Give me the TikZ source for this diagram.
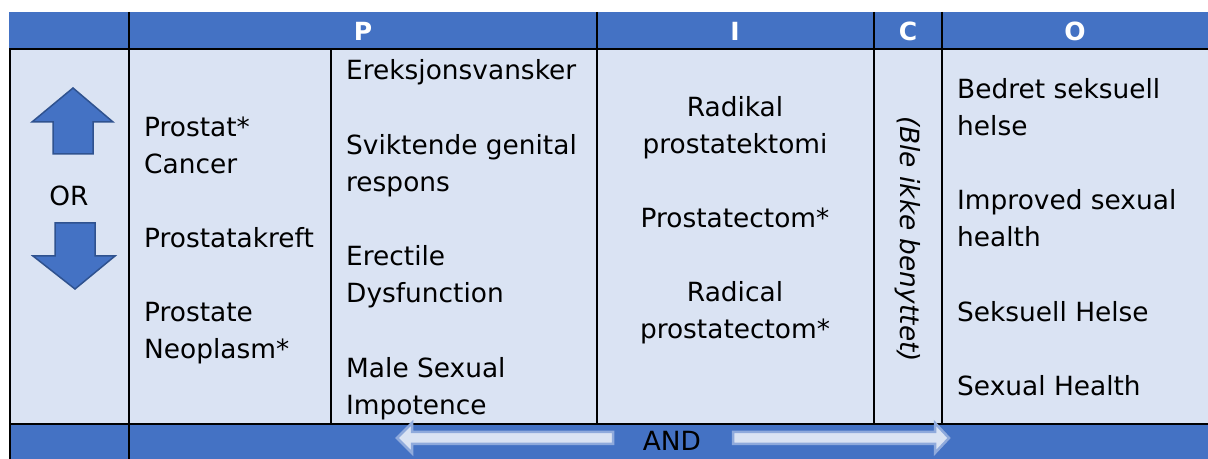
\documentclass[tikz,border=0pt]{standalone}
\usepackage{fontspec}
\setmainfont{DejaVu Sans}
\definecolor{hdr}{HTML}{4472C4}
\definecolor{cell}{HTML}{DAE3F3}
\definecolor{arrline}{HTML}{2F528F}
\definecolor{andline}{HTML}{8FAADC}
\begin{document}
\begin{tikzpicture}[x=1bp,y=-1bp,
  txt/.style={inner sep=0pt, font=\fontsize{26.4bp}{37bp}\selectfont},
  lt/.style={txt,anchor=base west},
  ct/.style={txt,anchor=base},
  hd/.style={inner sep=0pt, text=white, font=\fontsize{25bp}{30bp}\selectfont\bfseries},
  gridline/.style={line width=2bp, black},
  bigarrow/.style={fill=hdr, draw=arrline, line width=1.5bp, line join=miter},
  andarrow/.style={fill=cell, draw=andline, line width=2.5bp, line join=miter}]
\useasboundingbox (0,0) rectangle (1208,459);
\fill[white] (0,0) rectangle (1208,459);
% backgrounds
\fill[hdr] (9,12) rectangle (1208,49);
\fill[cell] (9,49) rectangle (1208,424);
\fill[hdr] (9,424) rectangle (1208,459);
% grid
\draw[gridline] (9,49) -- (1208,49);
\draw[gridline] (9,424) -- (1208,424);
\draw[gridline] (10,49) -- (10,459);
\draw[gridline] (129,12) -- (129,459);
\draw[gridline] (331,49) -- (331,424);
\draw[gridline] (597,12) -- (597,424);
\draw[gridline] (874,12) -- (874,424);
\draw[gridline] (942,12) -- (942,424);
% header
\node[hd] (hP) at (363,31) {P};
\node[hd] (hI) at (735,31) {I};
\node[hd] (hC) at (908,31) {C};
\node[hd] (hO) at (1075,31) {O};
% left column arrows
\draw[bigarrow] (73,88) -- (113,122) -- (93,122) -- (93,154) -- (53,154) -- (53,122) -- (32,122) -- cycle;
\draw[bigarrow] (55,223) -- (95,223) -- (95,256) -- (115,256) -- (75,289) -- (33,256) -- (55,256) -- cycle;
\node[ct] (or) at (69,206) {OR};
% P column 1
\node[lt] (p1a) at (144,137) {Prostat*};
\node[lt] (p1b) at (144,174) {Cancer};
\node[lt] (p1c) at (144,248) {Prostatakreft};
\node[lt] (p1d) at (144,322) {Prostate};
\node[lt] (p1e) at (144,359) {Neoplasm*};
% P column 2
\node[lt] (p2a) at (346,80) {Ereksjonsvansker};
\node[lt] (p2b) at (346,155) {Sviktende genital};
\node[lt] (p2c) at (346,192) {respons};
\node[lt] (p2d) at (346,266) {Erectile};
\node[lt] (p2e) at (346,303) {Dysfunction};
\node[lt] (p2f) at (346,378) {Male Sexual};
\node[lt] (p2g) at (346,415) {Impotence};
% I column
\node[ct] (i1) at (735,117) {Radikal};
\node[ct] (i2) at (735,154) {prostatektomi};
\node[ct] (i3) at (735,228) {Prostatectom*};
\node[ct] (i4) at (735,302) {Radical};
\node[ct] (i5) at (735,339) {prostatectom*};
% C column
\node[txt, font=\fontsize{26.4bp}{37bp}\selectfont\itshape, rotate=-90] (cnote) at (908,239) {(Ble ikke benyttet)};
% O column
\node[lt] (o1) at (957,99) {Bedret seksuell};
\node[lt] (o2) at (957,136) {helse};
\node[lt] (o3) at (957,210) {Improved sexual};
\node[lt] (o4) at (957,247) {health};
\node[lt] (o5) at (957,322) {Seksuell Helse};
\node[lt] (o6) at (957,396) {Sexual Health};
% footer
\draw[andarrow] (397,438) -- (412,423) -- (412,432) -- (613,432) -- (613,444) -- (412,444) -- (412,453) -- cycle;
\draw[andarrow] (949,438) -- (935,423) -- (935,432) -- (733,432) -- (733,444) -- (935,444) -- (935,453) -- cycle;
\node[ct] (and) at (672,451) {AND};
\end{tikzpicture}
\end{document}
